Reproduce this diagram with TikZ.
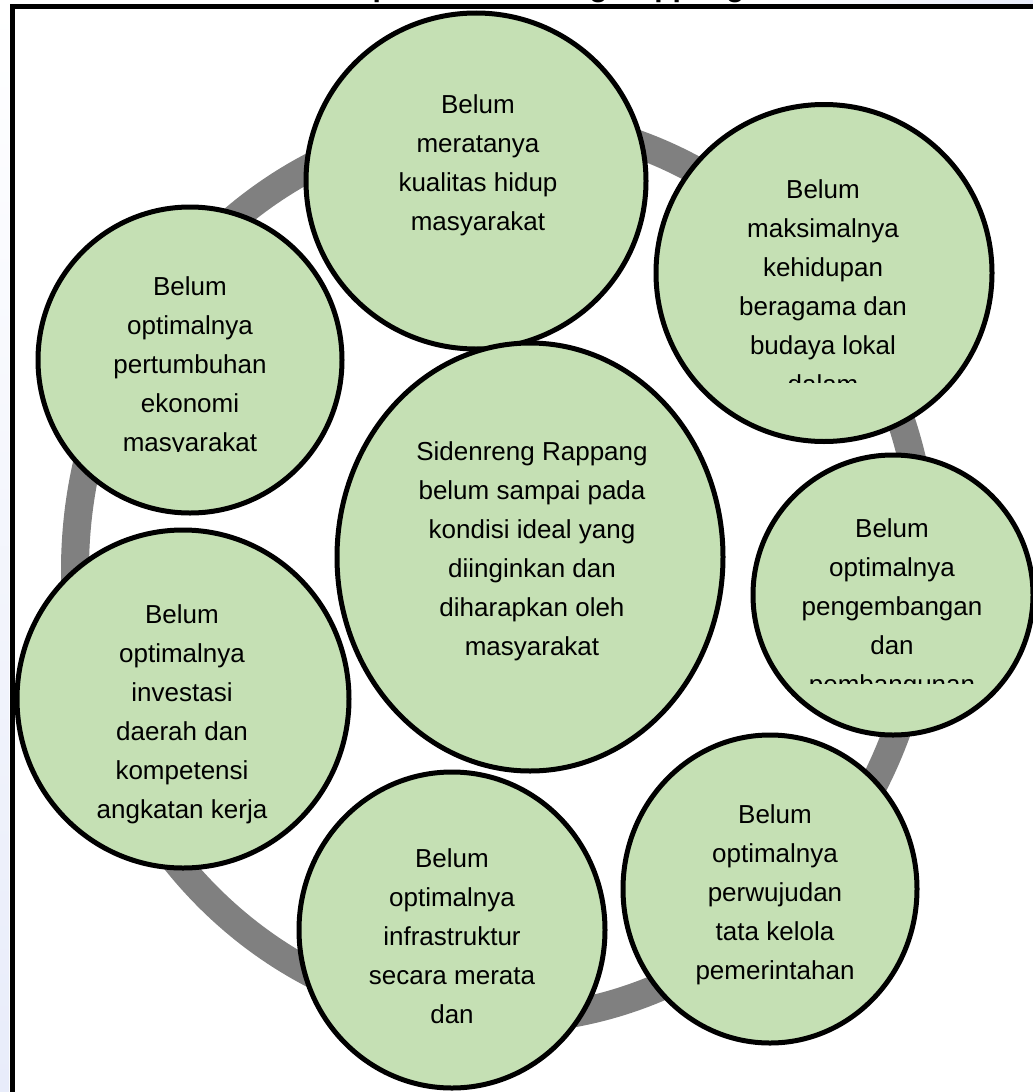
\documentclass[tikz,border=0pt]{standalone}
\usepackage{xcolor}
\usepackage{fontspec}
\setmainfont{Liberation Sans}
\usepackage{tikz}
\usetikzlibrary{shapes.geometric}

\definecolor{leafgreen}{RGB}{197,224,180}
\definecolor{ringgray}{RGB}{128,128,128}
\definecolor{slideblue}{RGB}{232,236,250}

\tikzset{
  bubble/.style={ellipse, draw=black, line width=5pt, fill=leafgreen, inner sep=0pt},
  words/.style={align=center, inner sep=0pt, anchor=north, font=\fontsize{26}{39}\selectfont}
}

\begin{document}
\begin{tikzpicture}[x=1pt, y=-1pt]
            \useasboundingbox (0,0) rectangle (1033,1092);
            \shade[top color=white, bottom color=slideblue] (0,0) rectangle (9,1092);
            \shade[left color=white, right color=slideblue] (760,0) rectangle (1033,4);
            \node[anchor=base, inner sep=0pt, font=\fontsize{30}{36}\selectfont\bfseries] (title) at (521,-3) {Kabupaten Sidenreng Rappang};
            \draw[line width=5pt] (12,1100) -- (12,6.5) -- (1040,6.5);
            \draw[ringgray, line width=28pt] (500,570) ellipse [x radius=425pt, y radius=450pt];
            % lingkaran luar
            \node[bubble, minimum width=340pt, minimum height=336pt] (kualitas) at (476,181) {};
            \node[words] (kualitas-txt) at (478,94) {Belum\\meratanya\\kualitas hidup\\masyarakat};
            \node[bubble, minimum width=336pt, minimum height=337pt] (budaya) at (824,273) {};
            \begin{scope}
                \clip (660,150) rectangle (990,382);
                \node[words] (budaya-txt) at (823,179) {Belum\\maksimalnya\\kehidupan\\beragama dan\\budaya lokal\\dalam};
            \end{scope}
            \node[bubble, minimum width=304pt, minimum height=306pt] (ekonomi) at (190,360) {};
            \begin{scope}
                \clip (40,250) rectangle (340,451);
                \node[words] (ekonomi-txt) at (190,276) {Belum\\optimalnya\\pertumbuhan\\ekonomi\\masyarakat};
            \end{scope}
            \node[bubble, minimum width=386pt, minimum height=428pt] (hub) at (530,557) {};
            \node[words] (hub-txt) at (532,441) {Sidenreng Rappang\\belum sampai pada\\kondisi ideal yang\\diinginkan dan\\diharapkan oleh\\masyarakat};
            \node[bubble, minimum width=280pt, minimum height=280pt] (pembangunan) at (893,595) {};
            \begin{scope}
                \clip (760,480) rectangle (1030,683);
                \node[words] (pembangunan-txt) at (892,518) {Belum\\optimalnya\\pengembangan\\dan\\pembangunan};
            \end{scope}
            \node[bubble, minimum width=332pt, minimum height=338pt] (investasi) at (183,699) {};
            \begin{scope}
                \clip (20,580) rectangle (345,823);
                \node[words] (investasi-txt) at (182,604) {Belum\\optimalnya\\investasi\\daerah dan\\kompetensi\\angkatan kerja};
            \end{scope}
            \node[bubble, minimum width=306pt, minimum height=316pt] (infrastruktur) at (452,930) {};
            \node[words] (infrastruktur-txt) at (452,848) {Belum\\optimalnya\\infrastruktur\\secara merata\\dan};
            \node[bubble, minimum width=294pt, minimum height=308pt] (tatakelola) at (770,889) {};
            \node[words] (tatakelola-txt) at (775,804) {Belum\\optimalnya\\perwujudan\\tata kelola\\pemerintahan};
        \end{tikzpicture}
\end{document}
